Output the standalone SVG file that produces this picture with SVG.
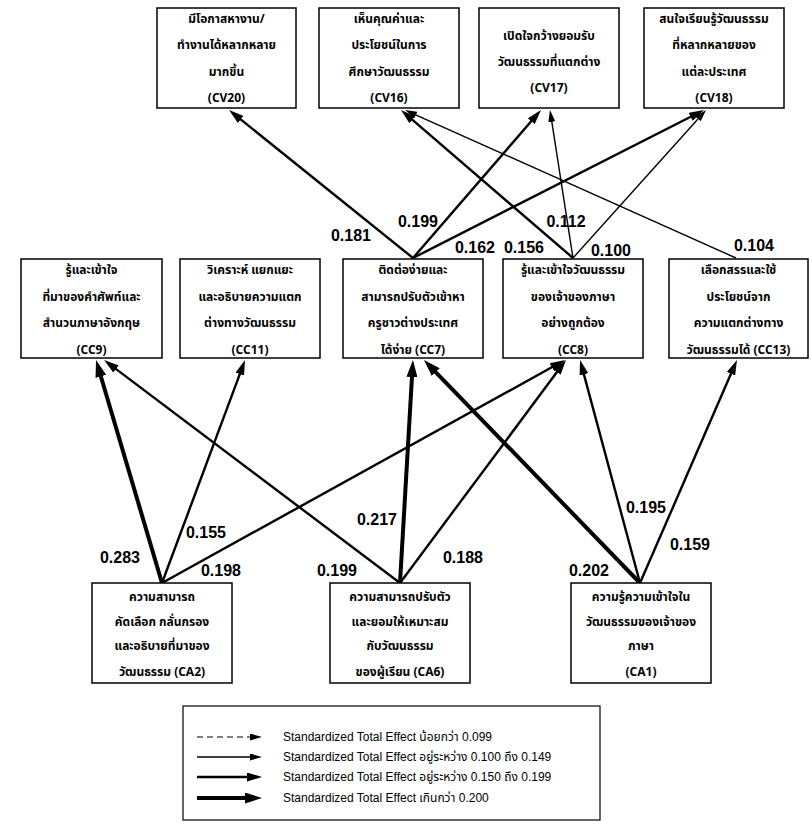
<svg xmlns="http://www.w3.org/2000/svg" width="812" height="833" viewBox="0 0 812 833">
<style>
.box{fill:#fff;stroke:#000;stroke-width:1.5}
.t{font-family:"Noto Sans Thai","Liberation Sans","DejaVu Sans",sans-serif;font-size:12px;font-weight:bold;text-anchor:middle;fill:#000}
.lb{font-family:"Liberation Sans",Arial,sans-serif;font-size:16px;font-weight:bold;fill:#000;text-anchor:middle}
.lg{font-family:"Liberation Sans","Noto Sans Thai",sans-serif;font-size:12px;fill:#000}
.thin{stroke:#000;stroke-width:1.4;fill:none;marker-end:url(#aThin)}
.med{stroke:#000;stroke-width:2.4;fill:none;marker-end:url(#aMed)}
.thick{stroke:#000;stroke-width:4;fill:none;marker-end:url(#aThick)}
.dash{stroke:#000;stroke-width:1.2;fill:none;stroke-dasharray:6 4;marker-end:url(#aThin)}
</style>
<defs>
<marker id="aThin" markerUnits="userSpaceOnUse" markerWidth="12" markerHeight="7" refX="4" refY="3.5" orient="auto"><path d="M0,0 L12,3.5 L0,7 z" fill="#000"/></marker>
<marker id="aMed" markerUnits="userSpaceOnUse" markerWidth="15" markerHeight="9" refX="4" refY="4.5" orient="auto"><path d="M0,0 L15,4.5 L0,9 z" fill="#000"/></marker>
<marker id="aThick" markerUnits="userSpaceOnUse" markerWidth="17" markerHeight="11" refX="4" refY="5.5" orient="auto"><path d="M0,0 L17,5.5 L0,11 z" fill="#000"/></marker>
</defs>
<rect width="812" height="833" fill="#fff"/>

<g id="connectors">
<line class="med" x1="413" y1="258" x2="237.6" y2="116.9"/>
<line class="med" x1="413" y1="258" x2="533.8" y2="118.3"/>
<line class="med" x1="413" y1="258" x2="694.2" y2="115.0"/>
<line class="med" x1="573" y1="258" x2="409.3" y2="117.2"/>
<line class="thin" x1="573" y1="258" x2="551.2" y2="117.9"/>
<line class="thin" x1="573" y1="258" x2="700.7" y2="116.0"/>
<line class="thin" x1="736" y1="258" x2="412.3" y2="113.3"/>
<line class="thick" x1="162" y1="583" x2="99.7" y2="372.5"/>
<line class="med" x1="162" y1="583" x2="241.2" y2="370.3"/>
<line class="med" x1="162" y1="583" x2="555.4" y2="365.3"/>
<line class="med" x1="400" y1="583" x2="112.8" y2="366.6"/>
<line class="thick" x1="400" y1="583" x2="412.2" y2="373"/>
<line class="med" x1="400" y1="583" x2="559.4" y2="368.8"/>
<line class="thick" x1="640" y1="583" x2="433.0" y2="369.3"/>
<line class="med" x1="640" y1="583" x2="582.9" y2="370.6"/>
<line class="med" x1="640" y1="583" x2="732.6" y2="370.1"/>
</g>

<g id="labels">
<text class="lb" x="351" y="241">0.181</text>
<text class="lb" x="418" y="227">0.199</text>
<text class="lb" x="475" y="253">0.162</text>
<text class="lb" x="524" y="253">0.156</text>
<text class="lb" x="566" y="227">0.112</text>
<text class="lb" x="611" y="256">0.100</text>
<text class="lb" x="754" y="251">0.104</text>
<text class="lb" x="120" y="563">0.283</text>
<text class="lb" x="206" y="538">0.155</text>
<text class="lb" x="221" y="576">0.198</text>
<text class="lb" x="337" y="576">0.199</text>
<text class="lb" x="377" y="525">0.217</text>
<text class="lb" x="463" y="563">0.188</text>
<text class="lb" x="589" y="576">0.202</text>
<text class="lb" x="646" y="513">0.195</text>
<text class="lb" x="690" y="550">0.159</text>
</g>

<g id="CV20"><rect class="box" x="157" y="8" width="139" height="100"/>
<text class="t" x="226.5" y="23">มีโอกาสหางาน/</text><text class="t" x="226.5" y="49">ทำงานได้หลากหลาย</text><text class="t" x="226.5" y="76">มากขึ้น</text><text class="t" x="226.5" y="102">(CV20)</text></g>
<g id="CV16"><rect class="box" x="319" y="8" width="140" height="100"/>
<text class="t" x="389" y="23">เห็นคุณค่าและ</text><text class="t" x="389" y="49">ประโยชน์ในการ</text><text class="t" x="389" y="76">ศึกษาวัฒนธรรม</text><text class="t" x="389" y="102">(CV16)</text></g>
<g id="CV17"><rect class="box" x="479" y="8" width="140" height="100"/>
<text class="t" x="549" y="40">เปิดใจกว้างยอมรับ</text><text class="t" x="549" y="66">วัฒนธรรมที่แตกต่าง</text><text class="t" x="549" y="92">(CV17)</text></g>
<g id="CV18"><rect class="box" x="644" y="8" width="140" height="100"/>
<text class="t" x="714" y="23">สนใจเรียนรู้วัฒนธรรม</text><text class="t" x="714" y="49">ที่หลากหลายของ</text><text class="t" x="714" y="76">แต่ละประเทศ</text><text class="t" x="714" y="102">(CV18)</text></g>

<g id="CC9"><rect class="box" x="21" y="259" width="141" height="99"/>
<text class="t" x="91.5" y="274">รู้และเข้าใจ</text><text class="t" x="91.5" y="301">ที่มาของคำศัพท์และ</text><text class="t" x="91.5" y="327">สำนวนภาษาอังกฤษ</text><text class="t" x="91.5" y="354">(CC9)</text></g>
<g id="CC11"><rect class="box" x="180" y="259" width="140" height="99"/>
<text class="t" x="250" y="274">วิเคราะห์ แยกแยะ</text><text class="t" x="250" y="301">และอธิบายความแตก</text><text class="t" x="250" y="327">ต่างทางวัฒนธรรม</text><text class="t" x="250" y="354">(CC11)</text></g>
<g id="CC7"><rect class="box" x="343" y="259" width="140" height="99"/>
<text class="t" x="413" y="274">ติดต่อง่ายและ</text><text class="t" x="413" y="301">สามารถปรับตัวเข้าหา</text><text class="t" x="413" y="327">ครูชาวต่างประเทศ</text><text class="t" x="413" y="354">ได้ง่าย (CC7)</text></g>
<g id="CC8"><rect class="box" x="503" y="259" width="140" height="99"/>
<text class="t" x="573" y="274">รู้และเข้าใจวัฒนธรรม</text><text class="t" x="573" y="301">ของเจ้าของภาษา</text><text class="t" x="573" y="327">อย่างถูกต้อง</text><text class="t" x="573" y="354">(CC8)</text></g>
<g id="CC13"><rect class="box" x="669" y="259" width="139" height="99"/>
<text class="t" x="738.5" y="274">เลือกสรรและใช้</text><text class="t" x="738.5" y="301">ประโยชน์จาก</text><text class="t" x="738.5" y="327">ความแตกต่างทาง</text><text class="t" x="738.5" y="354">วัฒนธรรมได้ (CC13)</text></g>

<g id="CA2"><rect class="box" x="92" y="583" width="140" height="100"/>
<text class="t" x="162" y="601">ความสามารถ</text><text class="t" x="162" y="626">คัดเลือก กลั่นกรอง</text><text class="t" x="162" y="650">และอธิบายที่มาของ</text><text class="t" x="162" y="676">วัฒนธรรม (CA2)</text></g>
<g id="CA6"><rect class="box" x="330" y="583" width="140" height="100"/>
<text class="t" x="400" y="601">ความสามารถปรับตัว</text><text class="t" x="400" y="626">และยอมให้เหมาะสม</text><text class="t" x="400" y="650">กับวัฒนธรรม</text><text class="t" x="400" y="676">ของผู้เรียน (CA6)</text></g>
<g id="CA1"><rect class="box" x="571" y="583" width="140" height="100"/>
<text class="t" x="641" y="601">ความรู้ความเข้าใจใน</text><text class="t" x="641" y="626">วัฒนธรรมของเจ้าของ</text><text class="t" x="641" y="650">ภาษา</text><text class="t" x="641" y="676">(CA1)</text></g>

<g id="legend">
<rect x="183" y="706" width="417" height="114" fill="none" stroke="#000" stroke-width="1.2"/>
<line class="dash" x1="197" y1="737" x2="254" y2="737"/>
<line class="thin" x1="197" y1="757" x2="254" y2="757"/>
<line class="med" x1="197" y1="777" x2="251" y2="777"/>
<line class="thick" x1="197" y1="798" x2="249" y2="798"/>
<text class="lg" x="283" y="741">Standardized Total Effect น้อยกว่า 0.099</text>
<text class="lg" x="283" y="761">Standardized Total Effect อยู่ระหว่าง 0.100 ถึง 0.149</text>
<text class="lg" x="283" y="781">Standardized Total Effect อยู่ระหว่าง 0.150 ถึง 0.199</text>
<text class="lg" x="283" y="802">Standardized Total Effect เกินกว่า 0.200</text>
</g>
</svg>
